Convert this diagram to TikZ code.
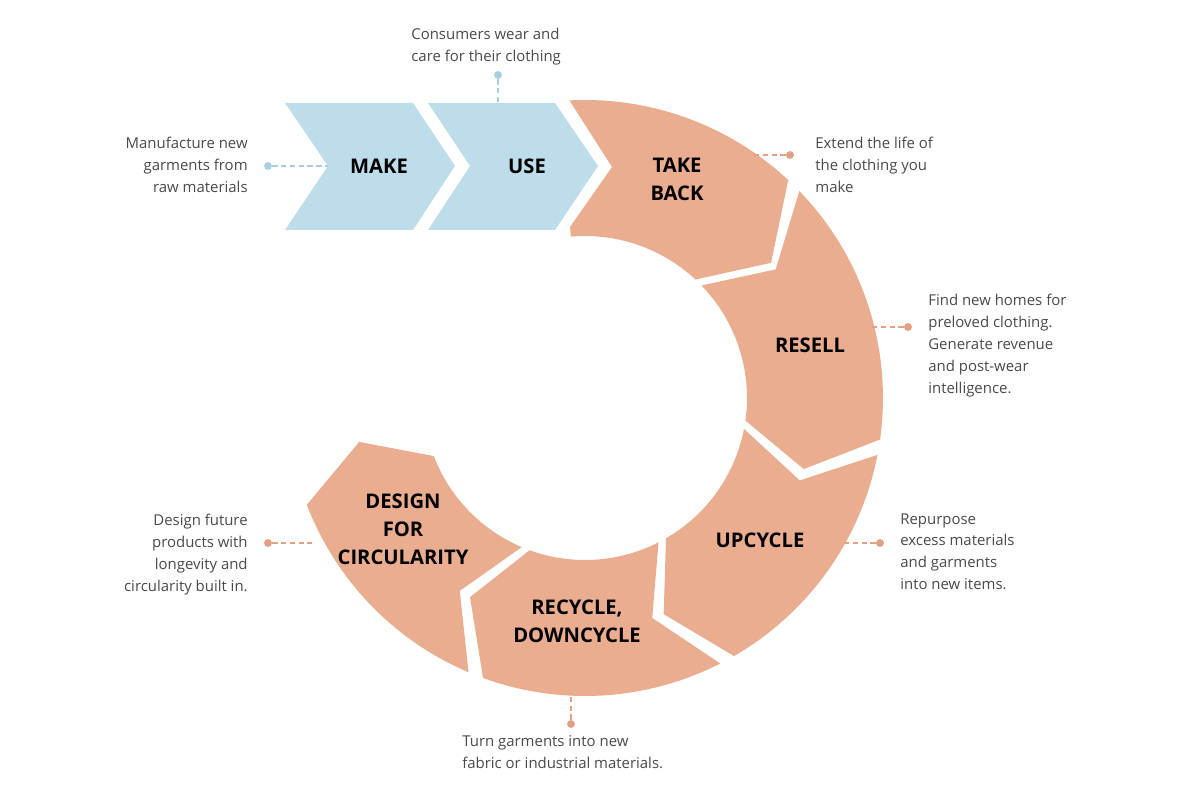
\documentclass[tikz,border=0pt]{standalone}
\usepackage{fontspec}
\setmainfont{Open Sans}
\definecolor{salmon}{HTML}{EAAD8F}
\definecolor{lblue}{HTML}{BDDDEA}
\definecolor{dsal}{HTML}{E3A084}
\definecolor{dblue}{HTML}{A8CEDF}
\definecolor{txt}{HTML}{4A4A4A}
\begin{document}
\begin{tikzpicture}[x=0.02cm,y=-0.02cm,
  seg/.style={fill=salmon,draw=none},
  arr/.style={fill=lblue,draw=none},
  lab/.style={font=\fontsize{11.5}{16}\selectfont\bfseries,align=center,text=black},
  desc/.style={font=\fontsize{8.5}{12.5}\selectfont,text=txt,inner sep=0pt},
  sdash/.style={draw=dsal,dashed,line width=0.6pt,dash pattern=on 3pt off 2pt},
  bdash/.style={draw=dblue,dashed,line width=0.6pt,dash pattern=on 3pt off 2pt},
  sdot/.style={circle,fill=dsal,inner sep=0pt,minimum size=4.5pt},
  bdot/.style={circle,fill=dblue,inner sep=0pt,minimum size=4.5pt}]
\useasboundingbox (0,0) rectangle (1200,800);
% blue arrows
\fill[arr] (285,103) -- (413,103) -- (455,166) -- (413,230) -- (285,230) -- (328,166) -- cycle;
\fill[arr] (428,103) -- (555,103) -- (598,166) -- (555,230) -- (428,230) -- (470,166) -- cycle;
% ring
\begin{scope}[shift={(585,398)},yscale=-1]
\fill[seg] plot[domain=93:47,samples=40] (\x:298) -- (36:230) -- (47:162) -- plot[domain=47:95,samples=30] (\x:162) -- (-15,171) -- (27,231) -- cycle;
\foreach \a/\b in {44/-8, -11/-60, -63/-110, -113/-159}{
  \fill[seg] plot[domain=\a:\b,samples=40] (\x:298) -- ({\b-10}:230) -- (\b:162) -- plot[domain=\b:\a,samples=30] (\x:162) -- ({\a-10}:230) -- cycle;
}
\end{scope}
% labels
\node[lab] (make) at (379,166) {MAKE};
\node[lab] (use) at (527,166) {USE};
\node[lab] (take) at (677,179) {TAKE\\BACK};
\node[lab] (resell) at (810,345) {RESELL};
\node[lab] (upc) at (760,540) {UPCYCLE};
\node[lab] (rec) at (577,621) {RECYCLE,\\DOWNCYCLE};
\node[lab] (des) at (403,529) {DESIGN\\FOR\\CIRCULARITY};
% descriptions
\node[desc,anchor=north east,align=right] (d1) at (248,137) {Manufacture new\\garments from\\raw materials};
\node[desc,anchor=north west,align=left] (d2) at (411,28) {Consumers wear and\\care for their clothing};
\node[desc,anchor=north west,align=left] (d3) at (815,137) {Extend the life of\\the clothing you\\make};
\node[desc,anchor=north west,align=left] (d4) at (928,294) {Find new homes for\\preloved clothing.\\Generate revenue\\and post-wear\\intelligence.};
\node[desc,anchor=north west,align=left] (d5) at (900,513) {Repurpose\\excess materials\\and garments\\into new items.};
\node[desc,anchor=north west,align=left] (d6) at (462,735) {Turn garments into new\\fabric or industrial materials.};
\node[desc,anchor=north east,align=right] (d7) at (248,514) {Design future\\products with\\longevity and\\circularity built in.};
% connectors
\node[bdot] (p1) at (268,166) {}; \coordinate (q1) at (328,166);
\node[bdot] (p2) at (498,75) {}; \coordinate (q2) at (498,103);
\node[sdot] (p3) at (790,155) {}; \coordinate (q3) at (752,155);
\node[sdot] (p4) at (908,327) {}; \coordinate (q4) at (870,327);
\node[sdot] (p5) at (880,543) {}; \coordinate (q5) at (842,543);
\node[sdot] (p6) at (571,724) {}; \coordinate (q6) at (571,693);
\node[sdot] (p7) at (268,543) {}; \coordinate (q7) at (312,543);
\draw[bdash] (p1) -- (q1);
\draw[bdash] (p2) -- (q2);
\draw[sdash] (p3) -- (q3);
\draw[sdash] (p4) -- (q4);
\draw[sdash] (p5) -- (q5);
\draw[sdash] (p6) -- (q6);
\draw[sdash] (p7) -- (q7);
\end{tikzpicture}
\end{document}
